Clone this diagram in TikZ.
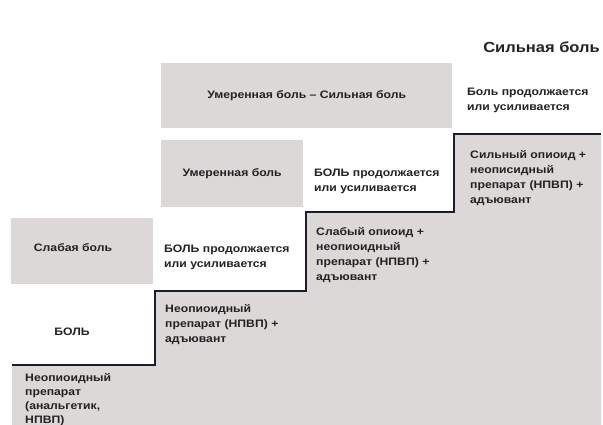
\documentclass[tikz,border=0pt]{standalone}
\usepackage{fontspec}
\setmainfont[FakeStretch=1.13]{Liberation Sans}
\definecolor{boxgray}{HTML}{DCD8D8}
\definecolor{stair}{HTML}{1C1C30}
\definecolor{txt}{HTML}{222222}
\begin{document}
\begin{tikzpicture}[x=1pt,y=-1pt,
  lbl/.style={font=\bfseries\fontsize{10.8}{15}\selectfont, text=txt, inner sep=0pt, align=left, anchor=north west},
  clbl/.style={font=\bfseries\fontsize{10.8}{15}\selectfont, text=txt, inner sep=0pt, align=center},
  gbox/.style={fill=boxgray, draw=none, inner sep=0pt, anchor=north west}]
\useasboundingbox (0,0) rectangle (603,425);
% staircase region
\fill[boxgray] (12,365) -- (155,365) -- (155,291) -- (306,291) -- (306,212) -- (454,212) -- (454,134) -- (601,134) -- (601,425) -- (12,425) -- cycle;
\coordinate (s0) at (12,365);
\coordinate (s1) at (155,365);
\coordinate (s2) at (155,291);
\coordinate (s3) at (306,291);
\coordinate (s4) at (306,212);
\coordinate (s5) at (454,212);
\coordinate (s6) at (454,134);
\coordinate (s7) at (601,134);
\draw[stair, line width=1.6pt] (s0) -- (s1) -- (s2) -- (s3) -- (s4) -- (s5) -- (s6) -- (s7);
% gray label boxes
\node[gbox, minimum width=291pt, minimum height=65pt] (bmod2) at (161,63) {};
\node[gbox, minimum width=142pt, minimum height=67pt] (bmod) at (161,140) {};
\node[gbox, minimum width=142pt, minimum height=66pt] (bweak) at (11,218) {};
% texts
\node[font=\bfseries\fontsize{14.6}{17}\selectfont, text=txt, inner sep=0pt, anchor=east] (strong) at (600,47) {Сильная боль};
\node[clbl] (tmod2) at (bmod2.center) {Умеренная боль – Сильная боль};
\node[lbl] (t1) at (467,88) {Боль продолжается\\или усиливается};
\node[clbl] (tmod) at (bmod.center) {Умеренная боль};
\node[lbl] (t2) at (314,169) {БОЛЬ продолжается\\или усиливается};
\node[lbl] (t3) at (470,150) {Сильный опиоид +\\неописидный\\препарат (НПВП) +\\адъювант};
\node[clbl] (tweak) at (73,248) {Слабая боль};
\node[lbl] (t4) at (164,245) {БОЛЬ продолжается\\или усиливается};
\node[lbl] (t5) at (316,227) {Слабый опиоид +\\неопиоидный\\препарат (НПВП) +\\адъювант};
\node[clbl] (tpain) at (72,332) {БОЛЬ};
\node[lbl] (t6) at (165,304) {Неопиоидный\\препарат (НПВП) +\\адъювант};
\node[lbl, font=\bfseries\fontsize{10.8}{14}\selectfont] (t7) at (25,373) {Неопиоидный\\препарат\\(анальгетик,\\НПВП)};
\end{tikzpicture}
\end{document}
